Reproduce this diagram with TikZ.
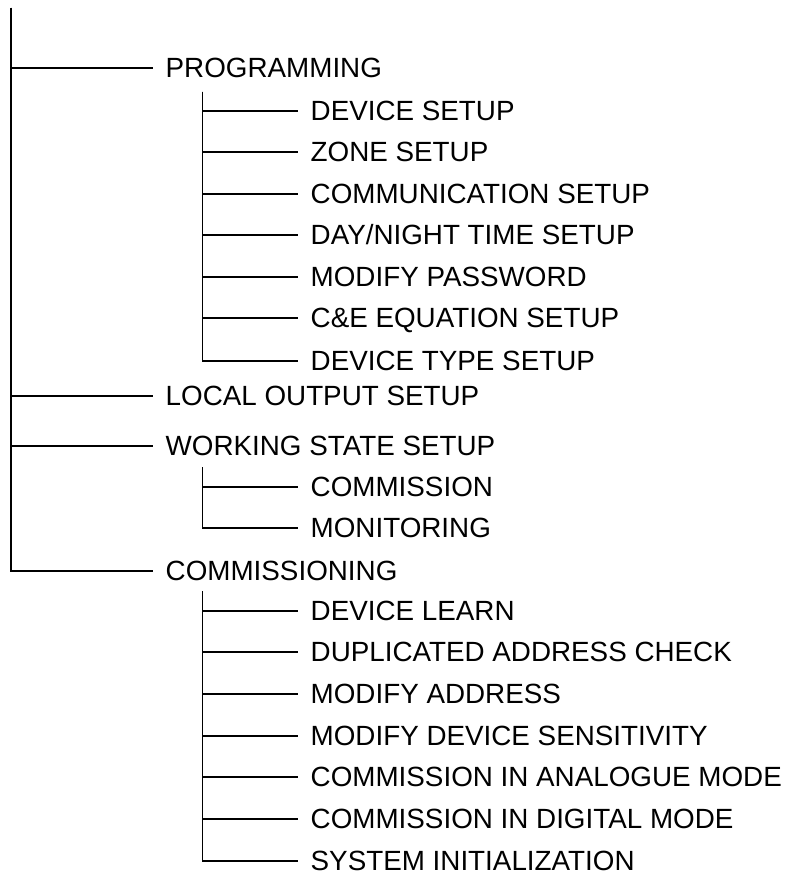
\documentclass[tikz,border=0pt]{standalone}
\usepackage{fontspec}
\setmainfont{Liberation Sans}
\begin{document}
\begin{tikzpicture}[x=1pt,y=-1pt,
  lbl/.style={anchor=west,inner ysep=0pt,inner xsep=12.5pt,text height=19.9pt,text depth=0pt,
    font=\fontsize{27.8}{33}\selectfont},
  conn/.style={line width=1.4pt,black}]
\useasboundingbox (0,0) rectangle (787,877);
% level 1
\coordinate (root) at (11,8);
\node[lbl] (prog) at (153,68) {PROGRAMMING};
\node[lbl] (local) at (153,396) {LOCAL OUTPUT SETUP};
\node[lbl] (work) at (153,446) {WORKING STATE SETUP};
\node[lbl] (comm) at (153,571) {COMMISSIONING};
% programming children
\coordinate (pr) at (202.5,92);
\node[lbl] (p1) at (298,111) {DEVICE SETUP};
\node[lbl] (p2) at (298,152) {ZONE SETUP};
\node[lbl] (p3) at (298,194) {COMMUNICATION SETUP};
\node[lbl] (p4) at (298,235) {DAY/NIGHT TIME SETUP};
\node[lbl] (p5) at (298,277) {MODIFY PASSWORD};
\node[lbl] (p6) at (298,318) {C\&E EQUATION SETUP};
\node[lbl] (p7) at (298,361) {DEVICE TYPE SETUP};
% working state children
\coordinate (wr) at (202.5,467);
\node[lbl] (w1) at (298,487) {COMMISSION};
\node[lbl] (w2) at (298,528) {MONITORING};
% commissioning children
\coordinate (cr) at (202.5,591);
\node[lbl] (c1) at (298,611) {DEVICE LEARN};
\node[lbl] (c2) at (298,652) {DUPLICATED ADDRESS CHECK};
\node[lbl] (c3) at (298,694) {MODIFY ADDRESS};
\node[lbl] (c4) at (298,736) {MODIFY DEVICE SENSITIVITY};
\node[lbl] (c5) at (298,777) {COMMISSION IN ANALOGUE MODE};
\node[lbl] (c6) at (298,819) {COMMISSION IN DIGITAL MODE};
\node[lbl] (c7) at (298,861) {SYSTEM INITIALIZATION};
% connectors
\foreach \n in {prog,local,work,comm} \draw[conn] (root) |- (\n.west);
\foreach \n in {p1,p2,p3,p4,p5,p6,p7} \draw[conn] (pr) |- (\n.west);
\foreach \n in {w1,w2} \draw[conn] (wr) |- (\n.west);
\foreach \n in {c1,c2,c3,c4,c5,c6,c7} \draw[conn] (cr) |- (\n.west);
\end{tikzpicture}
\end{document}
